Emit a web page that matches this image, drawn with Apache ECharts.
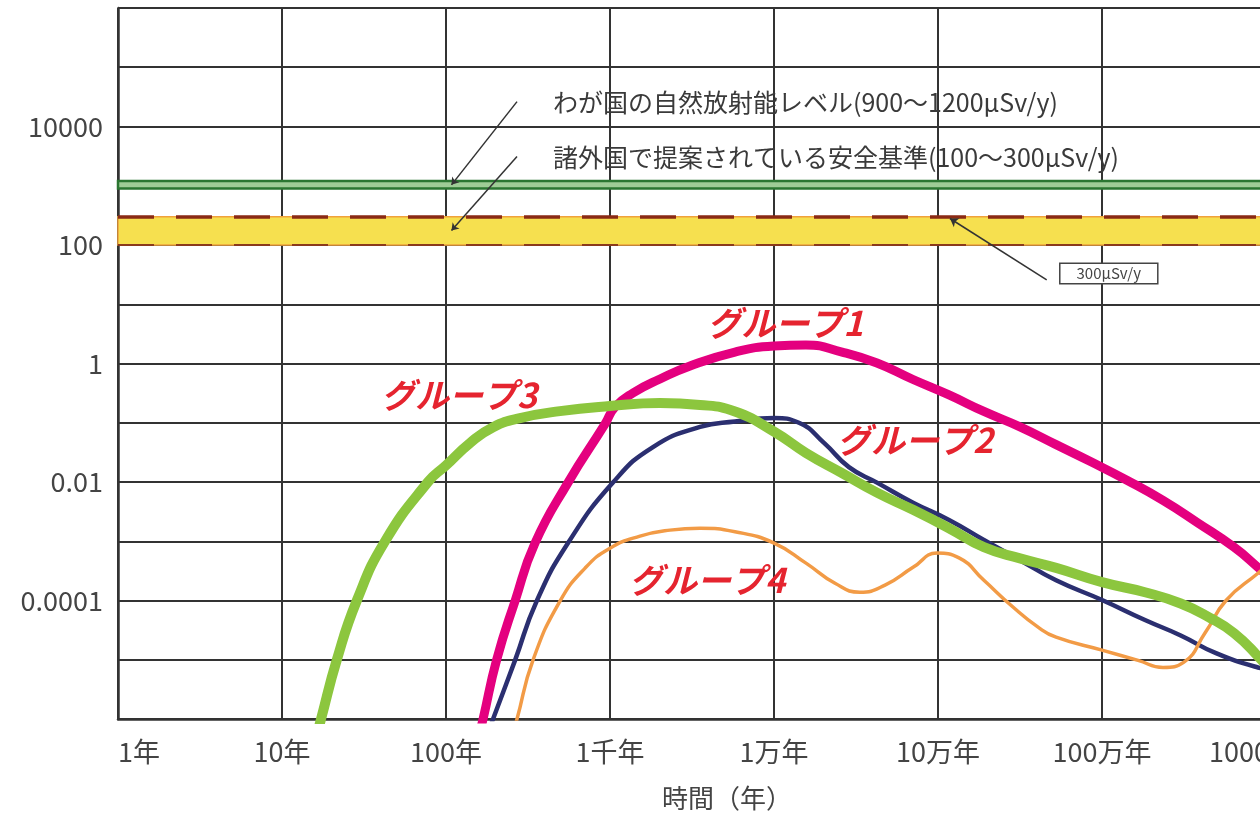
<!DOCTYPE html>
<html>
<head>
<meta charset="utf-8">
<script src="https://cdn.jsdelivr.net/npm/echarts@6/dist/echarts.min.js"></script>
<style>
  html, body { margin: 0; padding: 0; background: #ffffff; }
  #chart { width: 1260px; height: 822px; }
</style>
</head>
<body>
<div id="chart"></div>
<script>
// Time axis (years, log scale) and dose axis (μSv/y, log scale)
const xGridValues = [1, 10, 100, 1000, 1e4, 1e5, 1e6, 1e7, 1e8];
const xTickNames  = ['1年', '10年', '100年', '1千年', '1万年', '10万年', '100万年', '1000万年', '1億年'];
const yGridValues = [1e-6, 1e-5, 1e-4, 1e-3, 1e-2, 1e-1, 1, 10, 100, 1000, 1e4, 1e5, 1e6];
const yLabelValues = [1e-4, 1e-2, 1, 100, 1e4];
const yTickNames   = ['0.0001', '0.01', '1', '100', '10000'];

// Dose curves: [years, μSv/y]
const group1 = [
  [154.9, 3.98e-7], [168.3, 1e-6], [203.7, 1e-5], [263.6, 9.77e-5], [349.1, 9.33e-4],
  [554.6, 0.00977], [933.3, 0.0955], [1072, 0.184], [1380, 0.318], [2018, 0.547],
  [3076, 0.908], [5781, 1.56], [10000, 1.98], [15670, 2.06], [26000, 1.56], [42460, 1.02],
  [70470, 0.537], [116700, 0.295], [190500, 0.155], [316200, 0.0851], [524800, 0.0427],
  [857000, 0.0219], [1.419e6, 0.0107], [2.355e6, 0.0049], [3.846e6, 0.00204],
  [6.383e6, 7.94e-4], [8.933e6, 3.63e-4], [1.259e7, 1.58e-4]
];
const group2 = [
  [171.4, 3.98e-7], [193.6, 1e-6], [263.6, 9.77e-6], [357.3, 9.77e-5], [554.6, 9.33e-4],
  [1042, 0.00977], [1828, 0.0389], [3540, 0.0851], [5781, 0.105], [10000, 0.120],
  [14190, 0.100], [20180, 0.0457], [28640, 0.0178], [42460, 0.00977], [70470, 0.00447],
  [116700, 0.00229], [190500, 0.00105], [316200, 4.79e-4], [524800, 2.19e-4],
  [1e6, 1.02e-4], [1.828e6, 4.68e-5], [3.02e6, 2.57e-5], [4.955e6, 1.29e-5],
  [8.933e6, 7.41e-6], [1.259e7, 6.31e-6]
];
const group3 = [
  [15.85, 3.98e-7], [17.3, 1e-6], [21.6, 1e-5], [28.6, 1e-4], [42.5, 1e-3],
  [77.6, 0.01], [100, 0.0191], [140, 0.0454], [193.6, 0.0841], [282.6, 0.120],
  [495.5, 0.157], [1000, 0.191], [2018, 0.215], [3540, 0.200], [5781, 0.155],
  [10000, 0.0708], [15670, 0.0309], [26000, 0.0141], [42460, 0.00661], [70470, 0.00339],
  [116700, 0.00166], [190500, 7.94e-4], [316200, 5.13e-4], [524800, 3.55e-4],
  [1e6, 2.04e-4], [1.828e6, 1.38e-4], [3.02e6, 8.91e-5], [4.467e6, 5.25e-5],
  [6.383e6, 2.82e-5], [9.057e6, 1.1e-5], [1.259e7, 3.98e-6]
];
const group4 = [
  [246, 3.98e-7], [271, 1e-6], [338.8, 9.77e-6], [495.5, 9.77e-5], [704.7, 3.52e-4],
  [1000, 7.64e-4], [1524, 0.00122], [2323, 0.00154], [3540, 0.00166], [5781, 0.00145],
  [10000, 9.33e-4], [15670, 4.27e-4], [23550, 1.95e-4], [33420, 1.38e-4], [47530, 1.82e-4],
  [70470, 3.63e-4], [98630, 6.31e-4], [134300, 5.25e-4], [190500, 2.19e-4],
  [286400, 7.76e-5], [407400, 3.55e-5], [524800, 2.4e-5], [1e6, 1.45e-5],
  [1.66e6, 9.77e-6], [2.355e6, 7.41e-6], [3.162e6, 9.12e-6], [4.246e6, 2.82e-5],
  [5.702e6, 1e-4], [8.933e6, 2.88e-4], [1.259e7, 6.31e-4]
];

// Reference levels (μSv/y)
const naturalLevel   = [900, 1200];
const safetyStandard = [100, 300];
const markedLevel    = 300;

const FONT = "'Noto Sans CJK JP', 'Noto Sans', sans-serif";
const RED = '#e5242f';

function logKey(v) { return Math.round(Math.log10(v)); }

function groupLabel(text, coord) {
  return {
    coord: coord,
    symbol: 'rect', symbolSize: [1, 1],
    itemStyle: { color: 'rgba(0,0,0,0)' },
    label: {
      show: true, position: 'inside', formatter: text,
      color: RED, fontSize: 34, fontWeight: 'bold', fontStyle: 'italic', fontFamily: FONT
    }
  };
}
function noteText(text, coord) {
  return {
    coord: coord,
    symbol: 'rect', symbolSize: [1, 1],
    itemStyle: { color: 'rgba(0,0,0,0)' },
    label: {
      show: true, position: 'inside', align: 'left', verticalAlign: 'middle',
      formatter: text, color: '#3a3a3a', fontSize: 25, fontFamily: FONT
    }
  };
}

const chart = echarts.init(document.getElementById('chart'), null, { renderer: 'canvas' });

const curveCommon = { type: 'line', smooth: 0.5, showSymbol: false };

chart.setOption({
  backgroundColor: '#ffffff',
  animation: false,
  grid: { left: 118, right: -170, top: 8, bottom: 103, outerBoundsMode: 'none', containLabel: false },
  xAxis: {
    type: 'log', logBase: 10, min: 1, max: 1e8,
    axisLine: { show: true, onZero: false, lineStyle: { color: '#333', width: 2.5 } },
    axisTick: { show: false, customValues: xGridValues },
    splitLine: { show: true, lineStyle: { color: '#333', width: 2 } },
    axisLabel: {
      customValues: xGridValues, margin: 19, color: '#444', fontSize: 27, fontFamily: FONT,
      alignMinLabel: 'left',
      formatter: v => {
        const i = xGridValues.findIndex(g => logKey(g) === logKey(v));
        return i >= 0 ? xTickNames[i] : '';
      }
    }
  },
  yAxis: {
    type: 'log', logBase: 10, min: 1e-6, max: 1e6,
    axisLine: { show: true, lineStyle: { color: '#333', width: 2.5 } },
    axisTick: { show: false, customValues: yGridValues },
    splitLine: { show: true, lineStyle: { color: '#333', width: 2 } },
    axisLabel: {
      customValues: yLabelValues, margin: 15, color: '#444', fontSize: 27, fontFamily: FONT,
      formatter: v => {
        const i = yLabelValues.findIndex(g => logKey(g) === logKey(v));
        return i >= 0 ? yTickNames[i] : '';
      }
    }
  },
  graphic: [{
    type: 'text', left: 662, top: 785,
    style: { text: '時間（年）', fill: '#444', font: '26px ' + FONT }
  }],
  series: [
    {
      name: 'reference', type: 'line', data: [], silent: true, z: 1,
      markArea: {
        silent: true,
        data: [
          [{ yAxis: safetyStandard[0], itemStyle: { color: '#f6e04f', borderColor: '#f0a23c', borderWidth: 1.5 } },
           { yAxis: safetyStandard[1] }],
          [{ yAxis: naturalLevel[0], itemStyle: { color: '#9fcc96', borderColor: '#2b7631', borderWidth: 2.5 } },
           { yAxis: naturalLevel[1] }]
        ]
      },
      markLine: {
        silent: true, symbol: ['none', 'none'], label: { show: false },
        data: [
          { yAxis: markedLevel, lineStyle: { color: '#8a2a14', width: 3.5, type: [36, 22] } },
          { yAxis: safetyStandard[0], lineStyle: { color: '#8a3a1c', width: 2, type: [36, 22] } },
          [{ coord: [271, 26300], symbol: 'none', lineStyle: { color: '#333', width: 1.5, type: 'solid' } },
           { coord: [108, 1035], symbol: 'arrow', symbolSize: 7 }],
          [{ coord: [271, 3110], symbol: 'none', lineStyle: { color: '#333', width: 1.5, type: 'solid' } },
           { coord: [108, 175], symbol: 'arrow', symbolSize: 7 }],
          [{ coord: [460000, 25.7], symbol: 'none', lineStyle: { color: '#333', width: 1.5, type: 'solid' } },
           { coord: [118300, 280], symbol: 'arrow', symbolSize: 8 }]
        ]
      },
      markPoint: {
        silent: true,
        data: [
          noteText('わが国の自然放射能レベル(900～1200μSv/y)', [449, 25100]),
          noteText('諸外国で提案されている安全基準(100～300μSv/y)', [449, 2958]),
          {
            coord: [1.1e6, 33], symbol: 'rect', symbolSize: [1, 1],
            itemStyle: { color: 'rgba(0,0,0,0)' },
            label: {
              show: true, position: 'inside', formatter: '300μSv/y', color: '#444',
              fontSize: 15, fontFamily: FONT, backgroundColor: '#ffffff',
              borderColor: '#444', borderWidth: 1.5, padding: [2, 16]
            }
          }
        ]
      }
    },
    Object.assign({}, curveCommon, {
      name: 'グループ1', data: group1, z: 3,
      lineStyle: { color: '#e4007f', width: 9 }, itemStyle: { color: '#e4007f' },
      markPoint: { silent: true, data: [groupLabel('グループ1', [11700, 4.83])] }
    }),
    Object.assign({}, curveCommon, {
      name: 'グループ2', data: group2, z: 4,
      lineStyle: { color: '#2b2f70', width: 4.5 }, itemStyle: { color: '#2b2f70' },
      markPoint: { silent: true, data: [groupLabel('グループ2', [72400, 0.051])] }
    }),
    Object.assign({}, curveCommon, {
      name: 'グループ4', data: group4, z: 5,
      lineStyle: { color: '#f29b46', width: 3.5 }, itemStyle: { color: '#f29b46' },
      markPoint: { silent: true, data: [groupLabel('グループ4', [3900, 2.2e-4])] }
    }),
    Object.assign({}, curveCommon, {
      name: 'グループ3', data: group3, z: 6,
      lineStyle: { color: '#8cc63e', width: 10 }, itemStyle: { color: '#8cc63e' },
      markPoint: { silent: true, data: [groupLabel('グループ3', [120, 0.294])] }
    })
  ]
});
</script>
</body>
</html>
